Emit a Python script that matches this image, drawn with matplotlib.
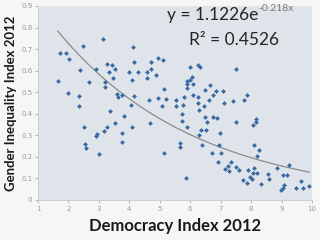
import numpy as np
import matplotlib
matplotlib.use("Agg")
import matplotlib.pyplot as plt

# democracy index 2012 vs gender inequality index 2012
dem = [1.65, 1.72, 1.93, 2.01, 2.48, 3.13, 2.39, 2.00, 2.35, 2.36,
       2.68, 2.90, 3.20, 3.21, 3.26, 3.33, 3.44, 3.45, 3.53, 3.59,
       3.62, 3.76, 3.37, 3.84, 3.98, 4.10, 4.11, 4.16, 4.16, 4.28,
       4.57, 4.57, 4.71, 4.71, 4.66, 4.88, 4.95, 4.95, 4.07, 2.52,
       3.53, 3.26, 3.16, 3.75, 2.95, 2.92, 4.10, 4.68, 3.77, 2.53,
       2.58, 3.00,
       5.10, 5.99, 6.25, 6.32, 6.05, 5.99, 5.89, 5.89, 5.15, 6.08,
       6.65, 6.49, 6.85, 5.89, 5.20, 5.52, 5.80, 6.08, 6.27, 6.63,
       6.74, 5.06, 5.52, 5.77, 6.25, 6.45, 6.30, 5.74, 6.49, 6.76,
       6.89, 5.74, 6.54, 5.90, 6.34, 6.52, 6.98, 6.30, 5.66, 5.66,
       6.40, 6.95, 5.15, 6.71, 7.00, 6.92, 5.86,
       7.07, 7.50, 7.86, 7.78, 7.40, 7.12, 8.17, 8.15, 8.07, 7.51,
       8.10, 8.25, 8.19, 7.34, 7.24, 7.13, 7.28, 7.51, 7.59, 7.90,
       8.11, 8.05, 8.19, 7.97, 8.03, 7.73, 7.87, 8.34, 8.56, 8.60,
       8.86, 9.24, 9.05, 9.19, 9.64, 9.08, 9.05, 8.99, 9.49, 9.71,
       9.91]
gii = [0.550, 0.682, 0.682, 0.654, 0.713, 0.749, 0.603, 0.496, 0.482, 0.436,
       0.546, 0.609, 0.546, 0.522, 0.631, 0.594, 0.628, 0.566, 0.608, 0.492,
       0.478, 0.485, 0.415, 0.391, 0.592, 0.558, 0.710, 0.642, 0.484, 0.592,
       0.592, 0.566, 0.642, 0.609, 0.465, 0.581, 0.659, 0.473, 0.443, 0.338,
       0.357, 0.338, 0.321, 0.310, 0.307, 0.298, 0.338, 0.357, 0.271, 0.259,
       0.240, 0.213,
       0.648, 0.615, 0.625, 0.615, 0.571, 0.558, 0.550, 0.538, 0.516, 0.538,
       0.533, 0.508, 0.507, 0.520, 0.468, 0.465, 0.478, 0.488, 0.476, 0.465,
       0.488, 0.434, 0.437, 0.442, 0.450, 0.437, 0.419, 0.400, 0.387, 0.387,
       0.380, 0.367, 0.360, 0.338, 0.326, 0.326, 0.310, 0.302, 0.264, 0.248,
       0.256, 0.256, 0.217, 0.220, 0.217, 0.178, 0.101,
       0.504, 0.609, 0.485, 0.462, 0.457, 0.448, 0.377, 0.364, 0.346, 0.360,
       0.257, 0.234, 0.205, 0.174, 0.158, 0.143, 0.135, 0.155, 0.140, 0.140,
       0.147, 0.127, 0.124, 0.106, 0.096, 0.093, 0.080, 0.074, 0.121, 0.099,
       0.147, 0.164, 0.116, 0.115, 0.088, 0.070, 0.054, 0.047, 0.054, 0.054,
       0.065]

a, b = 1.1226, -0.218   # exponential trendline
x_ticks = list(range(1, 11))
y_ticks = [0, 0.1, 0.2, 0.3, 0.4, 0.5, 0.6, 0.7, 0.8, 0.9]

fig = plt.figure(figsize=(3.2, 2.4), dpi=100, facecolor="#f6f6f6")
ax = fig.add_axes([38/320, 1 - 200/240, 274/320, 194/240])
ax.set_facecolor("#dfe3ea")

xs = np.linspace(min(dem), max(dem), 100)
ax.plot(xs, a * np.exp(b * xs), color="#8c8c8c", lw=0.9, zorder=2)
ax.scatter(dem, gii, marker="D", s=6, color="#3b6aa3", linewidths=0, zorder=3)

ax.set_xlim(1, 10)
ax.set_ylim(0, 0.9)
ax.set_xticks(x_ticks)
ax.set_yticks(y_ticks)
ax.set_xticklabels([str(t) for t in x_ticks])
ax.set_yticklabels(["0"] + [f"{t:.1f}" for t in y_ticks[1:]])
ax.tick_params(labelsize=5, colors="#9a9a9a", length=2, width=0.5, pad=2)
for s in ["top", "right"]:
    ax.spines[s].set_visible(False)
for s in ["left", "bottom"]:
    ax.spines[s].set_color("#c8c8c8")
    ax.spines[s].set_linewidth(0.6)

ax.set_xlabel("Democracy Index 2012", fontsize=12, family="Lato", fontweight="bold",
              color="#1a1a1a", labelpad=5)
ax.set_ylabel("Gender Inequality Index 2012", fontsize=9.5, family="Lato", fontweight="bold",
              color="#1a1a1a", labelpad=3)

eq = ax.text(0.47, 0.955, "y = 1.1226e", transform=ax.transAxes, family="Lato",
             fontsize=12.5, color="#262626", ha="left", va="center")
ax.annotate("-0.218x", xy=(1, 0.62), xycoords=eq, family="Lato", fontsize=7.5,
            color="#7a7a7a", ha="left", va="bottom")
ax.text(0.715, 0.825, "R² = 0.4526", transform=ax.transAxes, family="Lato",
        fontsize=12.5, color="#262626", ha="center", va="center")

fig.savefig("out.png", dpi=100, facecolor=fig.get_facecolor())
